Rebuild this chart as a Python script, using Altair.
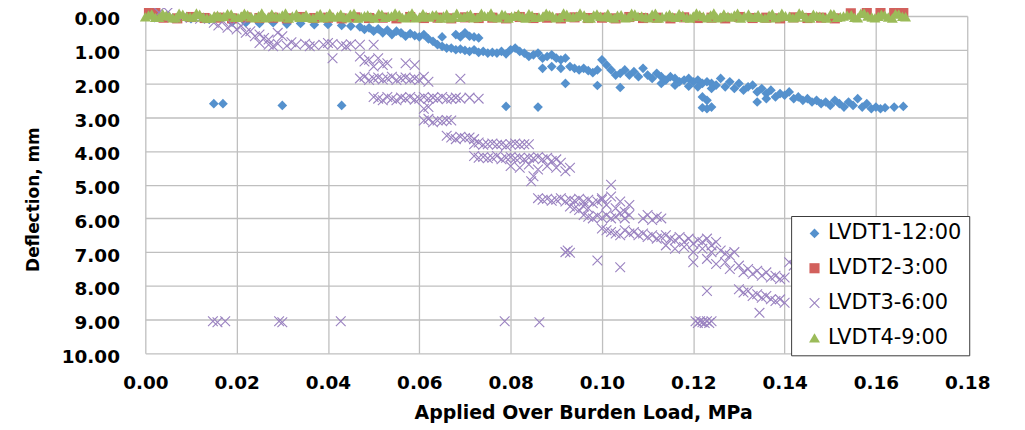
import altair as alt
import pandas as pd

SERIES = ["LVDT1-12:00", "LVDT2-3:00", "LVDT3-6:00", "LVDT4-9:00"]
COLORS = ["#5591cd", "#d2605c", "#9a82c0", "#9bbb59"]
CROSS = "M-1,-0.85L-0.85,-1L1,0.85L0.85,1Z M0.85,-1L1,-0.85L-0.85,1L-1,0.85Z"
SHAPES = ["diamond", "square", CROSS, "triangle-up"]
SIZES = [95, 120, 145, 150]

X_TICKS = [0.00, 0.02, 0.04, 0.06, 0.08, 0.10, 0.12, 0.14, 0.16, 0.18]
Y_TICKS = [0, 1, 2, 3, 4, 5, 6, 7, 8, 9, 10]

# (load MPa, deflection mm)
LVDT1 = [
    (0.002, 0.05), (0.006, 0.07), (0.010, 0.08), (0.014, 0.10), (0.019, 0.18),
    (0.022, 0.20), (0.025, 0.22), (0.028, 0.20), (0.031, 0.24), (0.034, 0.22),
    (0.037, 0.26), (0.040, 0.25), (0.043, 0.28), (0.045, 0.30), (0.047, 0.32),
    (0.048, 0.40), (0.049, 0.35), (0.050, 0.45), (0.051, 0.38), (0.052, 0.50),
    (0.053, 0.42), (0.054, 0.55), (0.055, 0.45), (0.056, 0.50), (0.057, 0.60),
    (0.058, 0.52), (0.059, 0.58), (0.060, 0.62), (0.061, 0.55), (0.062, 0.68),
    (0.063, 0.75), (0.064, 0.85), (0.065, 0.90), (0.066, 0.95), (0.065, 0.62),
    (0.068, 0.55), (0.069, 0.62), (0.070, 0.50), (0.071, 0.60), (0.072, 0.62),
    (0.073, 0.65), (0.067, 0.95), (0.068, 1.00), (0.069, 0.98), (0.070, 1.02),
    (0.071, 1.05), (0.072, 1.00), (0.073, 1.08), (0.074, 1.05), (0.075, 1.10),
    (0.076, 1.08), (0.077, 1.10), (0.078, 1.05), (0.079, 1.12), (0.080, 1.00),
    (0.081, 0.95), (0.082, 1.05), (0.083, 1.10), (0.084, 1.20), (0.085, 1.15),
    (0.086, 1.10), (0.087, 1.25), (0.088, 1.20), (0.089, 1.15), (0.090, 1.25),
    (0.091, 1.30), (0.092, 1.25), (0.087, 1.55), (0.089, 1.50), (0.091, 1.55),
    (0.093, 1.50), (0.094, 1.55), (0.095, 1.60), (0.096, 1.55), (0.097, 1.62),
    (0.098, 1.68), (0.099, 1.60), (0.100, 1.30), (0.101, 1.45), (0.102, 1.60),
    (0.103, 1.75), (0.104, 1.70), (0.105, 1.60), (0.106, 1.75), (0.107, 1.65),
    (0.108, 1.80), (0.109, 1.55), (0.110, 1.75), (0.111, 1.85), (0.112, 1.70),
    (0.113, 1.80), (0.114, 1.90), (0.115, 1.80), (0.116, 1.85), (0.117, 1.95),
    (0.118, 1.90), (0.119, 1.85), (0.120, 1.95), (0.121, 1.90), (0.122, 2.00),
    (0.123, 1.95), (0.124, 2.00), (0.125, 2.05), (0.113, 2.00), (0.116, 2.05),
    (0.119, 2.08), (0.121, 2.10), (0.124, 2.15), (0.126, 1.85), (0.127, 2.10),
    (0.128, 1.95), (0.129, 2.15), (0.130, 2.00), (0.131, 2.20), (0.132, 2.10),
    (0.133, 2.05), (0.134, 2.25), (0.135, 2.15), (0.136, 2.30), (0.137, 2.20),
    (0.138, 2.40), (0.139, 2.30), (0.140, 2.35), (0.141, 2.25), (0.142, 2.45),
    (0.134, 2.55), (0.136, 2.45), (0.143, 2.40), (0.144, 2.50), (0.145, 2.45),
    (0.146, 2.55), (0.147, 2.50), (0.148, 2.60), (0.149, 2.55), (0.150, 2.65),
    (0.151, 2.50), (0.152, 2.60), (0.153, 2.70), (0.154, 2.55), (0.155, 2.65),
    (0.156, 2.45), (0.157, 2.70), (0.158, 2.60), (0.159, 2.75), (0.160, 2.70),
    (0.161, 2.75), (0.162, 2.72), (0.164, 2.70), (0.166, 2.68),
    (0.015, 2.60), (0.017, 2.60), (0.030, 2.65), (0.043, 2.65), (0.079, 2.68),
    (0.086, 2.70), (0.092, 2.00), (0.099, 2.06), (0.104, 2.12), (0.122, 2.40),
    (0.122, 2.72), (0.123, 2.75), (0.124, 2.70), (0.123, 2.50),
]

LVDT2 = [
    (0.0008, -0.10), (0.0022, -0.12), (0.0040, 0.05), (0.0070, 0.07), (0.0100, 0.03),
    (0.0130, 0.06), (0.0160, 0.05), (0.0190, 0.07), (0.0220, 0.04), (0.0250, 0.06),
    (0.0280, 0.05), (0.0310, 0.07), (0.0340, 0.03), (0.0370, 0.06), (0.0400, 0.05),
    (0.0430, 0.07), (0.0460, 0.04), (0.0490, 0.06), (0.0520, 0.05), (0.0550, 0.07),
    (0.0580, 0.03), (0.0610, 0.06), (0.0640, 0.05), (0.0670, 0.07), (0.0700, 0.04),
    (0.0730, 0.06), (0.0760, 0.05), (0.0790, 0.07), (0.0820, 0.03), (0.0850, 0.06),
    (0.0880, 0.05), (0.0910, 0.07), (0.0940, 0.04), (0.0970, 0.06), (0.1000, 0.05),
    (0.1030, 0.07), (0.1060, 0.03), (0.1090, 0.06), (0.1120, 0.05), (0.1150, 0.07),
    (0.1180, 0.04), (0.1210, 0.06), (0.1240, 0.05), (0.1270, 0.07), (0.1300, 0.03),
    (0.1330, 0.06), (0.1360, 0.05), (0.1390, 0.07), (0.1420, 0.04), (0.1450, 0.06),
    (0.1480, 0.05), (0.1510, 0.07), (0.1545, -0.08), (0.1580, -0.10), (0.1610, -0.12),
    (0.1640, -0.10), (0.1660, -0.12),
]

LVDT3 = [
    (0.003, -0.10), (0.005, -0.12), (0.004, 0.02), (0.008, 0.05), (0.012, 0.08),
    (0.015, 0.20), (0.016, 0.28), (0.017, 0.15), (0.018, 0.35), (0.019, 0.25),
    (0.020, 0.40), (0.021, 0.30), (0.022, 0.50), (0.023, 0.45), (0.024, 0.60),
    (0.025, 0.55), (0.026, 0.65), (0.027, 0.70), (0.029, 0.50), (0.030, 0.60),
    (0.025, 0.80), (0.027, 0.85), (0.029, 0.82), (0.031, 0.88), (0.033, 0.85),
    (0.035, 0.82), (0.037, 0.87), (0.039, 0.85), (0.041, 0.83), (0.043, 0.86),
    (0.045, 0.84), (0.047, 0.85), (0.028, 0.90), (0.032, 0.78), (0.036, 0.90),
    (0.040, 0.80), (0.044, 0.90), (0.041, 1.25), (0.050, 0.85),
    (0.047, 1.20), (0.048, 1.35), (0.049, 1.30), (0.050, 1.50), (0.051, 1.25),
    (0.052, 1.45), (0.053, 1.40), (0.057, 1.40), (0.059, 1.45),
    (0.047, 1.85), (0.048, 1.80), (0.049, 1.90), (0.050, 1.85), (0.051, 1.82),
    (0.052, 1.88), (0.053, 1.85), (0.054, 1.80), (0.055, 1.90), (0.056, 1.85),
    (0.057, 1.82), (0.058, 1.88), (0.059, 1.85), (0.060, 1.90), (0.061, 1.80),
    (0.062, 1.95), (0.069, 1.86),
    (0.050, 2.40), (0.051, 2.45), (0.052, 2.50), (0.053, 2.40), (0.054, 2.45),
    (0.055, 2.50), (0.056, 2.42), (0.057, 2.45), (0.058, 2.40), (0.059, 2.48),
    (0.060, 2.45), (0.061, 2.40), (0.062, 2.45), (0.063, 2.42), (0.064, 2.45),
    (0.065, 2.40), (0.066, 2.47), (0.067, 2.45), (0.068, 2.42), (0.069, 2.45),
    (0.071, 2.42), (0.073, 2.45), (0.061, 2.75), (0.062, 2.70),
    (0.061, 3.10), (0.062, 3.05), (0.063, 3.15), (0.064, 3.10), (0.065, 3.12),
    (0.066, 3.08), (0.067, 3.10),
    (0.066, 3.55), (0.067, 3.60), (0.068, 3.65), (0.069, 3.58), (0.070, 3.62),
    (0.071, 3.60), (0.072, 3.65),
    (0.072, 3.80), (0.073, 3.75), (0.074, 3.82), (0.075, 3.80), (0.076, 3.78),
    (0.077, 3.82), (0.078, 3.80), (0.079, 3.85), (0.080, 3.80), (0.081, 3.78),
    (0.082, 3.82), (0.083, 3.80), (0.084, 3.80),
    (0.072, 4.15), (0.073, 4.20), (0.074, 4.18), (0.075, 4.22), (0.076, 4.20),
    (0.077, 4.15), (0.078, 4.25), (0.079, 4.20), (0.080, 4.18), (0.081, 4.22),
    (0.082, 4.20), (0.083, 4.25), (0.084, 4.20), (0.085, 4.22), (0.086, 4.18),
    (0.087, 4.25), (0.088, 4.20), (0.089, 4.30), (0.090, 4.25), (0.091, 4.35),
    (0.080, 4.45), (0.082, 4.50), (0.084, 4.40), (0.086, 4.55), (0.088, 4.45),
    (0.090, 4.50), (0.092, 4.60), (0.093, 4.50), (0.085, 4.75), (0.0845, 4.90),
    (0.102, 5.00),
    (0.086, 5.40), (0.087, 5.45), (0.088, 5.42), (0.089, 5.48), (0.090, 5.45),
    (0.091, 5.40), (0.092, 5.50), (0.093, 5.45), (0.094, 5.48), (0.095, 5.42),
    (0.096, 5.50), (0.097, 5.45), (0.098, 5.55), (0.099, 5.50), (0.100, 5.45),
    (0.093, 5.65), (0.094, 5.70), (0.095, 5.75), (0.096, 5.65), (0.097, 5.70),
    (0.096, 5.90), (0.097, 5.95), (0.098, 6.00), (0.099, 5.92), (0.100, 5.98),
    (0.101, 5.90), (0.102, 6.00), (0.103, 5.95), (0.104, 5.85), (0.105, 6.00),
    (0.106, 5.90),
    (0.100, 5.40), (0.101, 5.60), (0.102, 5.35), (0.103, 5.70), (0.104, 5.50),
    (0.105, 5.80), (0.106, 5.60),
    (0.109, 6.00), (0.110, 5.90), (0.111, 6.05), (0.112, 5.95), (0.113, 6.00),
    (0.100, 6.30), (0.101, 6.35), (0.102, 6.40), (0.103, 6.45), (0.104, 6.50),
    (0.105, 6.35), (0.106, 6.45), (0.107, 6.40), (0.108, 6.50), (0.109, 6.45),
    (0.110, 6.55), (0.111, 6.50), (0.112, 6.60), (0.113, 6.55), (0.114, 6.50),
    (0.115, 6.60), (0.116, 6.65), (0.117, 6.55), (0.118, 6.70), (0.119, 6.60),
    (0.120, 6.75), (0.121, 6.65), (0.122, 6.70), (0.123, 6.60), (0.124, 6.80),
    (0.125, 6.70),
    (0.114, 6.80), (0.116, 6.90), (0.118, 6.85), (0.120, 7.00), (0.122, 6.90),
    (0.124, 7.00), (0.126, 6.95), (0.127, 7.05), (0.128, 7.10), (0.129, 7.00),
    (0.092, 7.00), (0.0925, 6.95), (0.093, 7.02), (0.099, 7.25), (0.104, 7.45),
    (0.120, 7.30), (0.123, 8.15), (0.1345, 8.80),
    (0.123, 7.20), (0.125, 7.35), (0.127, 7.30), (0.128, 7.50), (0.130, 7.40),
    (0.131, 7.60), (0.132, 7.50), (0.133, 7.65), (0.134, 7.55), (0.135, 7.70),
    (0.136, 7.60), (0.137, 7.75), (0.138, 7.70), (0.139, 7.80), (0.140, 7.75),
    (0.141, 7.30), (0.142, 7.40),
    (0.130, 8.10), (0.131, 8.20), (0.132, 8.15), (0.133, 8.30), (0.134, 8.25),
    (0.135, 8.35), (0.136, 8.30), (0.137, 8.40), (0.138, 8.45), (0.139, 8.40),
    (0.140, 8.50),
    (0.1205, 9.05), (0.121, 9.10), (0.1215, 9.05), (0.122, 9.08), (0.1225, 9.10),
    (0.123, 9.05), (0.1235, 9.10), (0.124, 9.05),
    (0.0148, 9.05), (0.0158, 9.08), (0.0175, 9.05), (0.0293, 9.05), (0.0300, 9.08),
    (0.0428, 9.05), (0.0787, 9.05), (0.0863, 9.08),
]

LVDT4 = [
    (0.0000, 0.02), (0.0014, -0.06), (0.0030, 0.04), (0.0046, -0.02), (0.0060, 0.05),
    (0.0074, -0.08), (0.0091, 0.01), (0.0105, 0.03), (0.0119, -0.05), (0.0135, 0.06),
    (0.0151, -0.01), (0.0164, 0.02), (0.0180, -0.07), (0.0196, 0.04), (0.0210, 0.00),
    (0.0224, -0.04), (0.0241, 0.05), (0.0255, -0.09), (0.0269, 0.03), (0.0286, 0.01),
    (0.0300, -0.03), (0.0314, 0.06), (0.0331, -0.06), (0.0345, 0.02), (0.0359, 0.04),
    (0.0376, -0.02), (0.0390, 0.05), (0.0404, -0.08), (0.0421, 0.01), (0.0435, 0.03),
    (0.0449, -0.05), (0.0466, 0.06), (0.0480, -0.01), (0.0494, 0.02), (0.0511, -0.07),
    (0.0525, 0.04), (0.0539, 0.00), (0.0556, -0.04), (0.0570, 0.05), (0.0584, -0.09),
    (0.0601, 0.03), (0.0615, 0.01), (0.0629, -0.03), (0.0646, 0.06), (0.0660, -0.06),
    (0.0674, 0.02), (0.0691, 0.04), (0.0705, -0.02), (0.0719, 0.05), (0.0736, -0.08),
    (0.0750, 0.01), (0.0764, 0.03), (0.0781, -0.05), (0.0795, 0.06), (0.0809, -0.01),
    (0.0826, 0.02), (0.0840, -0.07), (0.0854, 0.04), (0.0871, 0.00), (0.0885, -0.04),
    (0.0899, 0.05), (0.0916, -0.09), (0.0930, 0.03), (0.0944, 0.01), (0.0961, -0.03),
    (0.0975, 0.06), (0.0989, -0.06), (0.1006, 0.02), (0.1020, 0.04), (0.1034, -0.02),
    (0.1051, 0.05), (0.1065, -0.08), (0.1079, 0.01), (0.1096, 0.03), (0.1110, -0.05),
    (0.1124, 0.06), (0.1141, -0.01), (0.1155, 0.02), (0.1169, -0.07), (0.1186, 0.04),
    (0.1200, 0.00), (0.1214, -0.04), (0.1231, 0.05), (0.1245, -0.09), (0.1259, 0.03),
    (0.1276, 0.01), (0.1290, -0.03), (0.1304, 0.06), (0.1321, -0.06), (0.1335, 0.02),
    (0.1349, 0.04), (0.1366, -0.02), (0.1380, 0.05), (0.1394, -0.08), (0.1411, 0.01),
    (0.1425, 0.03), (0.1439, -0.05), (0.1456, 0.06), (0.1470, -0.01), (0.1484, 0.02),
    (0.1501, -0.07), (0.1515, 0.04), (0.1529, 0.00), (0.1546, -0.04), (0.1560, 0.05),
    (0.1574, -0.09), (0.1591, 0.03), (0.1605, 0.01), (0.1619, -0.03), (0.1636, 0.06),
    (0.1650, -0.06), (0.1665, 0.02),
    (0.0007, -0.03), (0.0022, 0.04), (0.0038, -0.07), (0.0053, 0.00), (0.0067, 0.05),
    (0.0082, -0.05), (0.0098, 0.02), (0.0112, -0.09), (0.0127, 0.03), (0.0143, 0.06),
    (0.0158, -0.02), (0.0172, 0.01), (0.0188, -0.06), (0.0203, 0.04), (0.0217, -0.08),
    (0.0232, 0.02), (0.0248, -0.01), (0.0262, 0.05), (0.0277, -0.06), (0.0293, 0.03),
    (0.0307, -0.09), (0.0322, 0.00), (0.0338, 0.04), (0.0352, -0.04), (0.0367, 0.06),
    (0.0383, -0.07), (0.0397, 0.01), (0.0412, 0.03), (0.0428, -0.05), (0.0442, 0.05),
    (0.0457, -0.08), (0.0473, 0.02), (0.0487, -0.03), (0.0502, 0.06), (0.0518, -0.05),
    (0.0532, 0.01), (0.0547, -0.09), (0.0563, 0.04), (0.0577, -0.02), (0.0592, 0.05),
    (0.0608, -0.07), (0.0622, 0.03), (0.0637, -0.04), (0.0653, 0.00), (0.0667, 0.06),
    (0.0682, -0.08), (0.0698, 0.02), (0.0712, -0.05), (0.0727, 0.04), (0.0743, -0.01),
    (0.0757, -0.09), (0.0772, 0.05), (0.0788, -0.03), (0.0802, 0.01), (0.0817, -0.06),
    (0.0833, 0.06), (0.0847, -0.02), (0.0862, 0.03), (0.0878, -0.08), (0.0892, 0.00),
    (0.0907, 0.04), (0.0923, -0.05), (0.0937, 0.02), (0.0952, -0.09), (0.0968, 0.05),
    (0.0982, -0.03), (0.0997, 0.01), (0.1013, -0.07), (0.1027, 0.06), (0.1042, -0.04),
    (0.1058, 0.03), (0.1072, -0.06), (0.1087, 0.00), (0.1103, 0.05), (0.1117, -0.08),
    (0.1132, 0.02), (0.1148, -0.05), (0.1162, 0.04), (0.1177, -0.02), (0.1193, 0.06),
    (0.1207, -0.09), (0.1222, 0.01), (0.1238, -0.03), (0.1252, 0.05), (0.1267, -0.06),
    (0.1283, 0.03), (0.1297, -0.08), (0.1312, 0.00), (0.1328, 0.04), (0.1342, -0.04),
    (0.1357, 0.06), (0.1373, -0.07), (0.1387, 0.02), (0.1402, -0.01), (0.1418, 0.05),
    (0.1432, -0.09), (0.1447, 0.03), (0.1463, -0.05), (0.1477, 0.01), (0.1492, 0.06),
    (0.1508, -0.06), (0.1522, 0.02), (0.1537, -0.03), (0.1553, 0.04), (0.1567, -0.08),
    (0.1582, 0.00), (0.1598, 0.05), (0.1612, -0.05), (0.1627, 0.03), (0.1643, -0.07),
    (0.1658, 0.01),
]

rows = []
for name, pts in zip(SERIES, [LVDT1, LVDT2, LVDT3, LVDT4]):
    for x, y in pts:
        rows.append({"load": x, "defl": y, "series": name})
df = pd.DataFrame(rows)

FONT = "DejaVu Sans"

legend = alt.Legend(
    orient="none", legendX=649, legendY=201, padding=7,
    fillColor="white", strokeColor="#3a3a3a",
    labelFont=FONT, labelFontSize=21, labelColor="#000000",
    symbolOffset=6, labelOffset=3, rowPadding=13, symbolStrokeWidth=0,
)

x_axis = alt.Axis(
    values=X_TICKS, format=".2f", title="Applied Over Burden Load, MPa",
    grid=True, gridColor="#bfbfbf", gridWidth=1.3, domain=False, ticks=False, tickSize=0,
    labelFont=FONT, labelFontWeight="bold", labelFontSize=18.5, labelColor="#000000",
    labelPadding=20, labelFlush=False,
    titleFont=FONT, titleFontWeight="bold", titleFontSize=19, titleColor="#000000",
    titleX=440, titleY=59, titleBaseline="middle", titleAlign="center",
)
y_axis = alt.Axis(
    values=Y_TICKS, format=".2f", title="Deflection, mm",
    grid=True, gridColor="#bfbfbf", gridWidth=1.3, domain=False, ticks=False, tickSize=0,
    labelFont=FONT, labelFontWeight="bold", labelFontSize=18.5, labelColor="#000000",
    labelPadding=26, labelFlush=False, labelOffset=3,
    titleFont=FONT, titleFontWeight="bold", titleFontSize=17, titleColor="#000000",
    titleX=-112, titleY=184, titleAngle=270, titleBaseline="middle", titleAlign="center",
)

chart = alt.Chart(df).mark_point(filled=True, opacity=1, strokeWidth=0).encode(
    x=alt.X("load:Q", scale=alt.Scale(domain=[0, 0.18], nice=False, zero=False), axis=x_axis),
    y=alt.Y("defl:Q", scale=alt.Scale(domain=[0, 10], reverse=True, nice=False), axis=y_axis),
    color=alt.Color("series:N", scale=alt.Scale(domain=SERIES, range=COLORS), legend=legend, title=None),
    shape=alt.Shape("series:N", scale=alt.Scale(domain=SERIES, range=SHAPES), legend=legend, title=None),
    size=alt.Size("series:N", scale=alt.Scale(domain=SERIES, range=SIZES), legend=legend, title=None),
).properties(
    width=826, height=339,
    autosize=alt.AutoSizeParams(type="none"),
    padding={"left": 138, "top": 7, "right": 50, "bottom": 72},
).configure_view(strokeWidth=0)

chart.save("out.html", embed_options={"renderer": "svg", "actions": False})
